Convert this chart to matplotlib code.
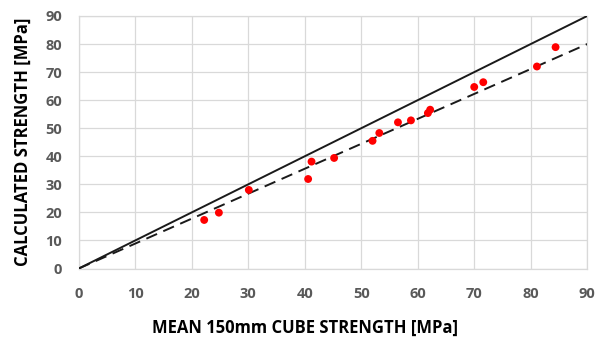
import matplotlib
matplotlib.use("Agg")
import matplotlib.pyplot as plt
import numpy as np

mean_cube = [22.2, 24.8, 30.1, 40.6, 41.2, 45.2, 52.0, 53.2, 56.5, 58.8, 61.8, 62.2, 70.0, 71.6, 81.1, 84.4]
calculated = [17.3, 19.9, 28.0, 31.9, 38.1, 39.4, 45.5, 48.3, 52.1, 52.8, 55.4, 56.6, 64.7, 66.4, 72.0, 78.9]
line_x = [0, 90]
equality_y = [0, 90]
fit_y = [0, 80]
ticks = [0, 10, 20, 30, 40, 50, 60, 70, 80, 90]

plt.rcParams['font.family'] = ['Open Sans', 'DejaVu Sans']

fig = plt.figure(figsize=(6.06, 3.41), dpi=100)
ax = fig.add_axes([0.130, 0.2126, 0.839, 0.7405])

ax.plot(line_x, equality_y, color='#1a1a1a', lw=1.4, zorder=3)
ax.plot(line_x, fit_y, color='#1a1a1a', lw=1.4, ls=(0, (6, 3.5)), zorder=3)
ax.scatter(mean_cube, calculated, s=32, color='#ff0000', edgecolors='none', zorder=4)

ax.set_xlim(0, 90)
ax.set_ylim(0, 90)
ax.set_xticks(ticks)
ax.set_yticks(ticks)
ax.grid(True, color='#d9d9d9', lw=0.9)
ax.set_axisbelow(True)
for s in ax.spines.values():
    s.set_color('#d9d9d9')
    s.set_linewidth(0.9)
ax.tick_params(axis='x', length=0, pad=13, labelsize=10.5, labelcolor='#595959')
ax.tick_params(axis='y', length=0, pad=12, labelsize=10.5, labelcolor='#595959')
for lbl in ax.get_xticklabels() + ax.get_yticklabels():
    lbl.set_fontweight('bold')

ax.set_xlabel('MEAN 150mm CUBE STRENGTH [MPa]', fontsize=12, fontweight='bold')
ax.xaxis.set_label_coords(0.445, -0.20)
ax.set_ylabel('CALCULATED STRENGTH [MPa]', fontsize=12, fontweight='bold', labelpad=10)

fig.savefig('out.png', dpi=100)
